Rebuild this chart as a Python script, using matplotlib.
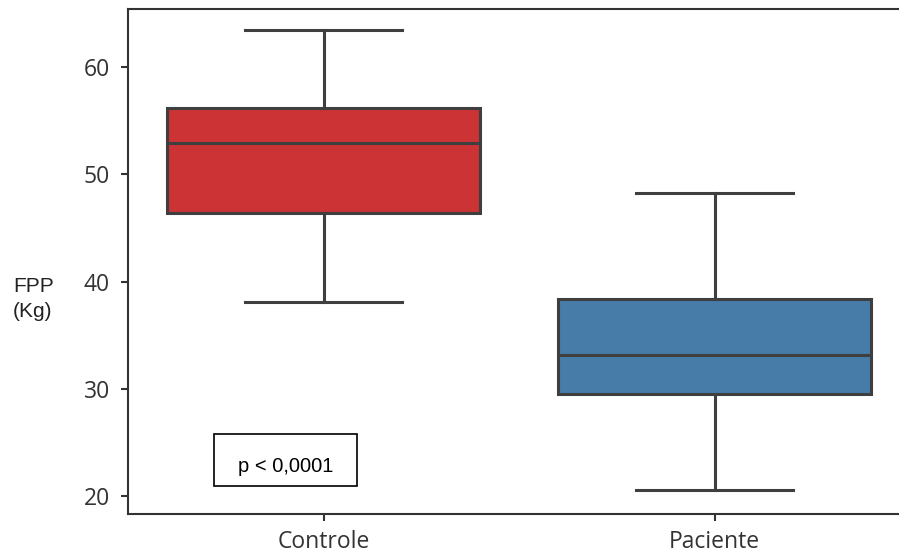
import matplotlib.pyplot as plt
from matplotlib.patches import Rectangle

# valores (FPP em Kg)
grupos = ['Controle', 'Paciente']
whisker_low = [38.1, 20.6]
q1 = [46.4, 29.5]
mediana = [52.9, 33.2]
q3 = [56.2, 38.4]
whisker_high = [63.5, 48.3]
cores = ['#cb3335', '#477ca8']
yticks = [20, 30, 40, 50, 60]

stats = []
for i, g in enumerate(grupos):
    stats.append({'label': g, 'whislo': whisker_low[i], 'q1': q1[i], 'med': mediana[i],
                  'q3': q3[i], 'whishi': whisker_high[i], 'fliers': []})

fig = plt.figure(figsize=(8.99, 5.54), dpi=100)
ax = fig.add_axes([128 / 899, (554 - 514.3) / 554, (910 - 128) / 899, (514.3 - 9.3) / 554])

lc = '#3f3f3f'
bp = ax.bxp(stats, positions=range(len(grupos)), widths=0.8, patch_artist=True,
            boxprops=dict(edgecolor=lc, linewidth=2.2),
            medianprops=dict(color=lc, linewidth=2.2),
            whiskerprops=dict(color=lc, linewidth=2.2),
            capprops=dict(color=lc, linewidth=2.2), capwidths=0.4)
for patch, c in zip(bp['boxes'], cores):
    patch.set_facecolor(c)

ax.set_xlim(-0.5, 1.5)
ax.set_ylim(18.29, 65.41)
ax.set_yticks(yticks)
ax.set_xticks(range(len(grupos)))
ax.set_xticklabels(grupos)
ax.tick_params(labelsize=16.5, colors='#333333', length=5, width=1.5)
ax.tick_params(axis='y', pad=8)
ax.tick_params(axis='x', pad=6)
for lab in ax.get_xticklabels() + ax.get_yticklabels():
    lab.set_family('Open Sans')
for s in ax.spines.values():
    s.set_color('#333333')
    s.set_linewidth(1.5)
ax.spines['right'].set_visible(False)

# caixa com o valor de p
ax.add_patch(Rectangle((-0.279, 20.97), 0.365, 4.85, fill=False, edgecolor='black',
                       linewidth=1.2, zorder=5))
ax.text(-0.097, 22.75, 'p < 0,0001', ha='center', va='center', fontsize=14.5,
        family='Liberation Sans', color='black', zorder=6)

fig.text(13 / 899, 1 - 299 / 554, 'FPP\n(Kg)', ha='left', va='center', fontsize=15,
         family='Liberation Sans', color='#222222', linespacing=1.35)

fig.savefig('out.png', dpi=100)
